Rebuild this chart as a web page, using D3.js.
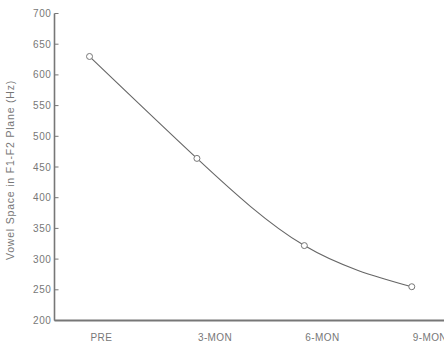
<!DOCTYPE html>
<html>
<head>
<meta charset="utf-8">
<script src="https://cdn.jsdelivr.net/npm/d3@7"></script>
<style>
  html, body { margin: 0; padding: 0; background: #fff; }
  svg { display: block; }
  text { font-family: "Liberation Sans", Arial, sans-serif; fill: #777; }
</style>
</head>
<body>
<svg id="chart" width="444" height="349"></svg>
<script>
// Vowel space area at each assessment session
const categories = ["PRE", "3-MON", "6-MON", "9-MON"];
const values = [630, 464, 322, 255];
const yTicks = [200, 250, 300, 350, 400, 450, 500, 550, 600, 650, 700];
const yLabel = "Vowel Space in F1-F2 Plane (Hz)";

const svg = d3.select("#chart");
const W = 444;

const x = d3.scaleLinear().domain([0.674, 4.3]).range([54.5, 444]);
const y = d3.scaleLinear().domain([200, 700]).range([320.5, 13.5]);

// y axis with inward ticks
const yAxis = svg.append("g").attr("transform", `translate(${x.range()[0]},0)`);
yAxis.append("line")
  .attr("y1", y(700)).attr("y2", y(200))
  .attr("stroke", "#777").attr("stroke-width", 1.6);
yAxis.selectAll("line.tick").data(yTicks).join("line")
  .attr("class", "tick")
  .attr("x1", 0).attr("x2", 4)
  .attr("y1", d => y(d)).attr("y2", d => y(d))
  .attr("stroke", "#777").attr("stroke-width", 1);
yAxis.selectAll("text").data(yTicks).join("text")
  .attr("x", -3).attr("y", d => y(d))
  .attr("dy", "0.35em")
  .attr("text-anchor", "end")
  .attr("font-size", 10)
  .attr("letter-spacing", "0.6px")
  .text(d => d);

// x axis baseline
svg.append("line")
  .attr("x1", x.range()[0]).attr("x2", W)
  .attr("y1", y(200)).attr("y2", y(200))
  .attr("stroke", "#777").attr("stroke-width", 1.8);

// category labels
svg.selectAll("text.cat").data(categories).join("text")
  .attr("class", "cat")
  .attr("x", (d, i) => x(i + 1) + 1)
  .attr("y", 341)
  .attr("text-anchor", "start")
  .attr("font-size", 10)
  .attr("letter-spacing", "0.4px")
  .text(d => d);

// y axis title
svg.append("text")
  .attr("transform", `translate(14,${170}) rotate(-90)`)
  .attr("text-anchor", "middle")
  .attr("font-size", 10.5)
  .attr("letter-spacing", "0.8px")
  .text(yLabel);

// smooth line through the session values
const line = d3.line()
  .x((d, i) => x(i + 1))
  .y(d => y(d))
  .curve(d3.curveNatural);

svg.append("path")
  .datum(values)
  .attr("d", line)
  .attr("fill", "none")
  .attr("stroke", "#666")
  .attr("stroke-width", 1.1);

svg.selectAll("circle").data(values).join("circle")
  .attr("cx", (d, i) => x(i + 1))
  .attr("cy", d => y(d))
  .attr("r", 3)
  .attr("fill", "#fff")
  .attr("stroke", "#777")
  .attr("stroke-width", 1);
</script>
</body>
</html>
